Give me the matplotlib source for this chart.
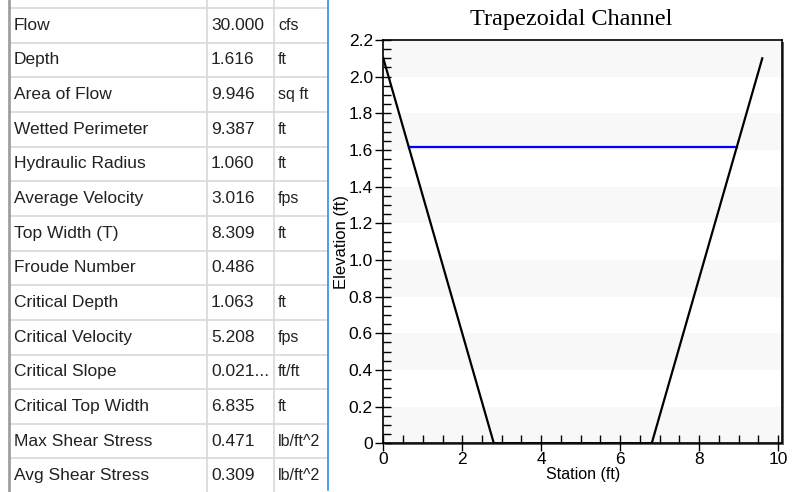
import numpy as np
import matplotlib.pyplot as plt
from matplotlib.ticker import FixedLocator, FixedFormatter, MultipleLocator
from matplotlib.patches import Rectangle

# results table
names = ['Flow', 'Depth', 'Area of Flow', 'Wetted Perimeter', 'Hydraulic Radius',
         'Average Velocity', 'Top Width (T)', 'Froude Number', 'Critical Depth',
         'Critical Velocity', 'Critical Slope', 'Critical Top Width',
         'Max Shear Stress', 'Avg Shear Stress']
values = ['30.000', '1.616', '9.946', '9.387', '1.060', '3.016', '8.309', '0.486',
          '1.063', '5.208', '0.021...', '6.835', '0.471', '0.309']
units = ['cfs', 'ft', 'sq ft', 'ft', 'ft', 'fps', 'ft', '', 'ft', 'fps', 'ft/ft',
         'ft', 'lb/ft^2', 'lb/ft^2']

# channel section
station = [0, 2.8, 6.8, 9.6]
elevation = [2.1, 0, 0, 2.1]
water_x = [0.645, 8.955]
water_y = [1.616, 1.616]

xticks = [0, 2, 4, 6, 8, 10]
yticks = [0, 0.2, 0.4, 0.6, 0.8, 1.0, 1.2, 1.4, 1.6, 1.8, 2.0, 2.2]
ylabels = ['0', '0.2', '0.4', '0.6', '0.8', '1.0', '1.2', '1.4', '1.6', '1.8', '2.0', '2.2']

W, H = 802, 492
plt.rcParams['font.family'] = ['Liberation Sans', 'DejaVu Sans']
fig = plt.figure(figsize=(W/100, H/100), dpi=100)

# table drawn in pixel coordinates
tab = fig.add_axes([0, 0, 1, 1])
tab.set_xlim(0, W)
tab.set_ylim(H, 0)
tab.axis('off')
top = 8
rh = 34.65
for i in range(len(names) + 1):
    y = top + i*rh
    tab.plot([9, 327], [y, y], color='#d8d8d8', lw=1.2)
tab.plot([9, 9], [0, H], color='#a0a0a0', lw=2)
for cx in [206.5, 273.5]:
    tab.plot([cx, cx], [0, H], color='#d8d8d8', lw=1.2)
tab.plot([327.5, 327.5], [0, 490], color='#2a8cf0', lw=1.2)
for i in range(len(names)):
    yc = top + (i + 0.5)*rh
    tab.text(14, yc, names[i], fontsize=12.5, va='center', ha='left', color='#222222')
    tab.text(211, yc, values[i], fontsize=12.5, va='center', ha='left', color='#222222')
    tab.text(278, yc, units[i], fontsize=11.5, va='center', ha='left', color='#222222')

# plot
x0, x1, yb, yt = 383.3, 782, 443.3, 40
ax = fig.add_axes([x0/W, 1 - yb/H, (x1 - x0)/W, (yb - yt)/H])
# shadow
tab.add_patch(Rectangle((x0 + 2, yt + 2), x1 - x0, yb - yt, facecolor='#606060',
                        edgecolor='none', zorder=0))
ax.set_facecolor('white')
for b in np.arange(0, 2.2, 0.4):
    ax.axhspan(b, b + 0.2, color='#f8f8f8', lw=0, zorder=0)

ax.plot(station, elevation, color='black', lw=1.6, zorder=3)
ax.plot(water_x, water_y, color='#0000ff', lw=1.6, zorder=2)

ax.set_xlim(0, 10.1)
ax.set_ylim(0, 2.2)
ax.xaxis.set_major_locator(FixedLocator(xticks))
ax.xaxis.set_minor_locator(MultipleLocator(0.5))
ax.yaxis.set_major_locator(FixedLocator(yticks))
ax.yaxis.set_major_formatter(FixedFormatter(ylabels))
ax.yaxis.set_minor_locator(MultipleLocator(0.05))
ax.tick_params(which='major', direction='inout', length=11, width=1, labelsize=12.5,
               colors='black', pad=2)
ax.tick_params(which='minor', direction='in', length=6, width=1)
ax.tick_params(axis='x', which='major', pad=1)
for s in ax.spines.values():
    s.set_linewidth(1.2)
    s.set_zorder(4)
ax.set_xlabel('Station (ft)', fontsize=11.5, labelpad=0)
ax.set_ylabel('Elevation (ft)', fontsize=12, labelpad=0)
ax.set_title('Trapezoidal Channel', fontsize=17.5, family='Liberation Serif', pad=11, x=0.472)

fig.savefig('out.png', dpi=100)
